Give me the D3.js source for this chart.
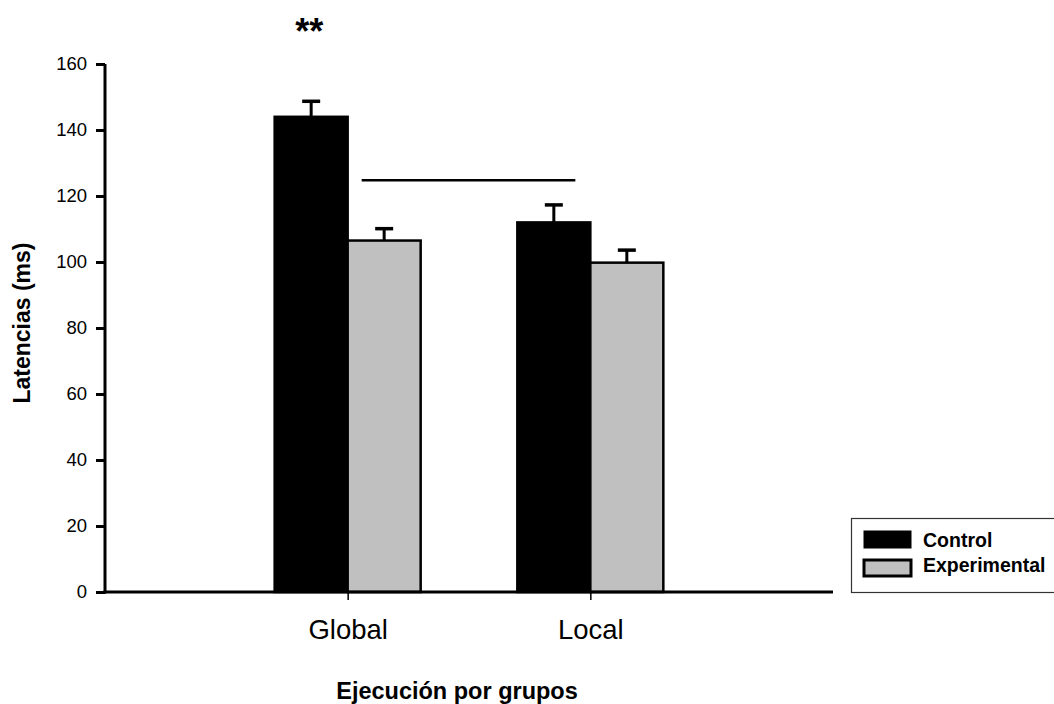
<!DOCTYPE html>
<html><head><meta charset="utf-8">
<script src="https://cdn.jsdelivr.net/npm/d3@7"></script>
<style>body{margin:0;background:#fff}svg{display:block;font-family:Arial,"Liberation Sans",sans-serif}</style>
</head><body><svg id="c" width="1054" height="704"></svg>
<script>
const categories = ["Global", "Local"];
const seriesNames = ["Control", "Experimental"];
const controlValues = [144.0, 112.0];
const experimentalValues = [106.5, 99.8];
const controlErrors = [4.7, 5.3];
const experimentalErrors = [3.6, 3.8];
const yTicks = [0, 20, 40, 60, 80, 100, 120, 140, 160];
const sigLineValue = 124.8;
const sigLabel = "**";
const colors = ["#000000", "#c0c0c0"];

const FONT = "Arial, 'Liberation Sans', sans-serif";
const svg = d3.select("#c");
const x0 = 105, x1 = 833, yTop = 64, yBot = 592;
const x = d3.scalePoint().domain(categories).range([x0, x1]).padding(1);
const y = d3.scaleLinear().domain([0, 160]).range([yBot, yTop]);
const barW = 73;
const xs = d3.scaleBand().domain(seriesNames).range([-barW, barW]).padding(0);

const series = [
  {name: "Control", values: controlValues, errs: controlErrors, color: colors[0]},
  {name: "Experimental", values: experimentalValues, errs: experimentalErrors, color: colors[1]}
];

// bars with upper error bars
series.forEach(s => {
  categories.forEach((c, i) => {
    const bx = x(c) + xs(s.name);
    const cx = bx + xs.bandwidth() / 2;
    svg.append("line").attr("x1", cx).attr("x2", cx)
      .attr("y1", y(s.values[i])).attr("y2", y(s.values[i] + s.errs[i]))
      .attr("stroke", "#000").attr("stroke-width", 3);
    svg.append("line").attr("x1", cx - 9).attr("x2", cx + 9)
      .attr("y1", y(s.values[i] + s.errs[i])).attr("y2", y(s.values[i] + s.errs[i]))
      .attr("stroke", "#000").attr("stroke-width", 3.5);
    svg.append("rect").attr("x", bx).attr("width", xs.bandwidth())
      .attr("y", y(s.values[i])).attr("height", y(0) - y(s.values[i]))
      .attr("fill", s.color).attr("stroke", "#000").attr("stroke-width", 2.5);
  });
});

// significance line
svg.append("line")
  .attr("x1", x("Global") + 14).attr("x2", x("Local") - 15)
  .attr("y1", y(sigLineValue)).attr("y2", y(sigLineValue))
  .attr("stroke", "#000").attr("stroke-width", 2.5);

// asterisks
svg.append("text").attr("x", x("Global") + xs("Control") + xs.bandwidth() / 2 - 2).attr("y", 44)
  .attr("text-anchor", "middle").attr("font-size", 36).attr("font-weight", "bold")
  .attr("font-family", FONT).text(sigLabel);

// y axis
const yAxis = d3.axisLeft(y).tickValues(yTicks).tickSize(9).tickSizeOuter(0).tickPadding(9);
const gy = svg.append("g").attr("transform", `translate(${x0},0)`).call(yAxis);
gy.select(".domain").attr("stroke-width", 3).attr("d", `M0,${yTop}V${yBot + 1.5}`);
gy.selectAll(".tick line").attr("stroke-width", 3);
gy.selectAll(".tick text").attr("font-size", 18.5).attr("fill", "#000").attr("font-family", FONT);

// x axis
const xAxis = d3.axisBottom(x).tickSize(8).tickSizeOuter(0);
const gx = svg.append("g").attr("transform", `translate(0,${yBot})`).call(xAxis);
gx.select(".domain").attr("stroke-width", 3).attr("d", `M${x0 - 1.5},0H${x1}`);
gx.selectAll(".tick line").attr("stroke-width", 1.5);
gx.selectAll(".tick text").attr("font-size", 27.5).attr("fill", "#000").attr("font-family", FONT)
  .attr("y", 47).attr("dy", 0);

// axis titles
svg.append("text").attr("transform", `translate(30,323) rotate(-90)`)
  .attr("text-anchor", "middle").attr("font-size", 23).attr("font-weight", "bold")
  .attr("font-family", FONT).text("Latencias (ms)");
svg.append("text").attr("x", 457).attr("y", 699)
  .attr("text-anchor", "middle").attr("font-size", 23.5).attr("font-weight", "bold")
  .attr("font-family", FONT).text("Ejecución por grupos");

// legend
const lg = svg.append("g");
lg.append("rect").attr("x", 851.5).attr("y", 518.5).attr("width", 210).attr("height", 74)
  .attr("fill", "#fff").attr("stroke", "#333").attr("stroke-width", 1.2);
const legendRows = [{y: 531, h: 17}, {y: 560, h: 16}];
series.forEach((s, i) => {
  const r = legendRows[i];
  lg.append("rect").attr("x", 864).attr("y", r.y).attr("width", 47).attr("height", r.h)
    .attr("fill", s.color).attr("stroke", "#000").attr("stroke-width", i ? 3 : 1);
  lg.append("text").attr("x", 923).attr("y", i ? 572 : 547).attr("font-size", 19.5)
    .attr("font-weight", "bold").attr("font-family", FONT).text(s.name);
});
</script></body></html>
